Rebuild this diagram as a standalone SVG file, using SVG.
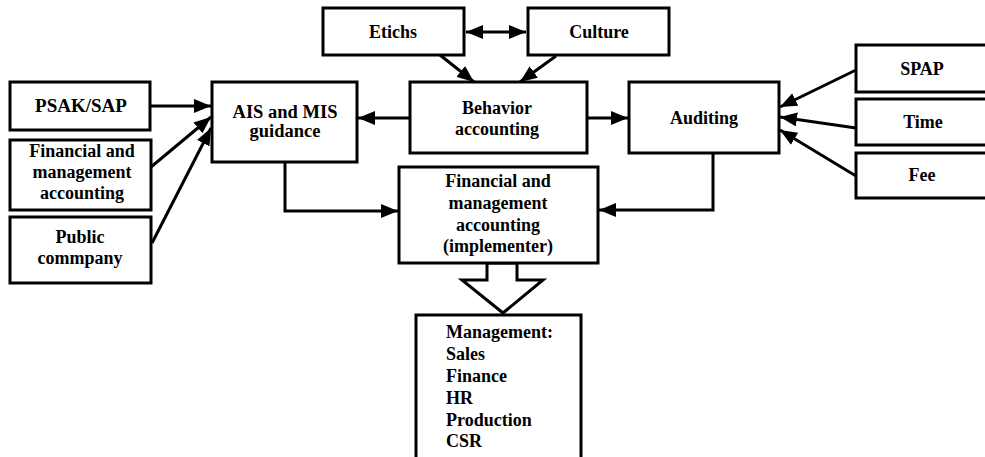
<svg xmlns="http://www.w3.org/2000/svg" width="985" height="457" viewBox="0 0 985 457">
<style>
.box{fill:#fff;stroke:#000;stroke-width:3}
.t{text-anchor:middle}
.l{text-anchor:start}
.c{fill:none;stroke:#000;stroke-width:3}
</style>
<defs>
<marker id="ah" markerUnits="userSpaceOnUse" markerWidth="17" markerHeight="14" refX="17" refY="7" orient="auto-start-reverse">
<path d="M0,0 L17,7 L0,14 z" fill="#000"/>
</marker>
</defs>
<g id="connectors">
<line class="c" x1="466" y1="32" x2="526" y2="32" marker-start="url(#ah)" marker-end="url(#ah)"/>
<line class="c" x1="440" y1="55" x2="474" y2="82" marker-end="url(#ah)"/>
<line class="c" x1="556" y1="56" x2="520" y2="82" marker-end="url(#ah)"/>
<line class="c" x1="410" y1="118" x2="358" y2="118" marker-end="url(#ah)"/>
<line class="c" x1="587" y1="118" x2="628" y2="118" marker-end="url(#ah)"/>
<line class="c" x1="151" y1="106" x2="211" y2="106" marker-end="url(#ah)"/>
<line class="c" x1="151" y1="167" x2="211" y2="117" marker-end="url(#ah)"/>
<line class="c" x1="152" y1="243" x2="211" y2="128" marker-end="url(#ah)"/>
<line class="c" x1="856" y1="70" x2="780" y2="107" marker-end="url(#ah)"/>
<line class="c" x1="856" y1="128" x2="780" y2="117" marker-end="url(#ah)"/>
<line class="c" x1="856" y1="176" x2="780" y2="130" marker-end="url(#ah)"/>
<polyline class="c" points="285,162 285,211 398,211" marker-end="url(#ah)"/>
<polyline class="c" points="713,153 713,210 599,210" marker-end="url(#ah)"/>
<polygon class="box" points="487,263 487,280 462,280 503,313 543,280 517,280 517,263"/>
</g>
<g font-family="Liberation Serif" font-weight="bold" font-size="18" fill="#000">
<g id="etichs"><rect class="box" x="323" y="8" width="141" height="47"/><text class="t" x="393" y="38">Etichs</text></g>
<g id="culture"><rect class="box" x="528" y="8" width="141" height="47"/><text class="t" x="599" y="38">Culture</text></g>
<g id="psak"><rect class="box" x="10" y="82" width="140" height="48"/><text class="t" x="81" y="112" font-size="19">PSAK/SAP</text></g>
<g id="ais"><rect class="box" x="212" y="82" width="145" height="80"/><text class="t" x="285" y="118" font-size="18.5">AIS and MIS</text><text class="t" x="285" y="137" font-size="18.5">guidance</text></g>
<g id="behavior"><rect class="box" x="410" y="82" width="177" height="71"/><text class="t" x="497" y="114">Behavior</text><text class="t" x="497" y="135">accounting</text></g>
<g id="auditing"><rect class="box" x="629" y="82" width="150" height="71"/><text class="t" x="704" y="124">Auditing</text></g>
<g id="spap"><rect class="box" x="856" y="45" width="134" height="47"/><text class="t" x="922" y="75">SPAP</text></g>
<g id="time"><rect class="box" x="856" y="99" width="134" height="46"/><text class="t" x="923" y="128">Time</text></g>
<g id="fee"><rect class="box" x="856" y="153" width="134" height="45"/><text class="t" x="922" y="181">Fee</text></g>
<g id="finmgmt"><rect class="box" x="10" y="140" width="141" height="70"/><text class="t" x="82" y="157">Financial and</text><text class="t" x="82" y="178">management</text><text class="t" x="82" y="199">accounting</text></g>
<g id="public"><rect class="box" x="10" y="217" width="141" height="66"/><text class="t" x="80" y="243">Public</text><text class="t" x="80" y="264">commpany</text></g>
<g id="implementer"><rect class="box" x="399" y="167" width="199" height="96"/><text class="t" x="498" y="187">Financial and</text><text class="t" x="498" y="209">management</text><text class="t" x="498" y="231">accounting</text><text class="t" x="498" y="252">(implementer)</text></g>
<g id="management"><rect class="box" x="416" y="315" width="165" height="150"/><text class="l" x="446" y="338">Management:</text><text class="l" x="446" y="360">Sales</text><text class="l" x="446" y="382">Finance</text><text class="l" x="446" y="404">HR</text><text class="l" x="446" y="426">Production</text><text class="l" x="446" y="447">CSR</text></g>
</g>
</svg>
